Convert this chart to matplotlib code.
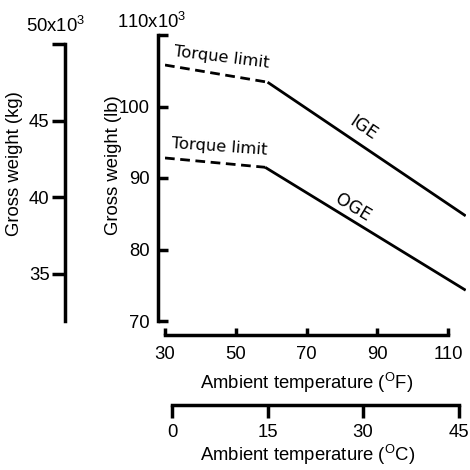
#!/usr/bin/python3

import matplotlib
matplotlib.use("Agg")
import matplotlib.pyplot as plt

plt.rcParams['font.family'] = ['Liberation Sans', 'DejaVu Sans']
plt.rcParams['mathtext.fontset'] = 'custom'
plt.rcParams['mathtext.rm'] = 'Liberation Sans'

# hover ceiling curves, gross weight (1000 lb) vs ambient temperature (F)
ige_torque_temp = [30, 59]
ige_torque_weight = [105.8, 103.4]
ige_temp = [59, 115]
ige_weight = [103.4, 84.7]

oge_torque_temp = [30, 58.3]
oge_torque_weight = [92.8, 91.5]
oge_temp = [58.3, 115]
oge_weight = [91.5, 74.3]

lb_ticks = [70, 80, 90, 100, 110]
lb_tick_labels = ['70', '80', '90', '100', '']
f_ticks = [30, 50, 70, 90, 110]
c_ticks = [0, 15, 30, 45]
kg_ticks = [35, 40, 45, 50]
kg_tick_labels = ['35', '40', '45', '']

FS = 13.3
LW_AX = 2.5
LW = 2.0
LABEL_FONT = 'DejaVu Sans'


def f_to_c(f):
  return (f - 32.0) * 5.0 / 9.0


def px(x, y):
  # pixel position -> figure fraction
  return x / 470.0, 1 - y / 470.0


def main():
  fig = plt.figure(figsize=(4.7, 4.7), dpi=100)

  left, bottom = px(165, 321)
  right, top = px(466.4, 35)
  ax = fig.add_axes([left, bottom, right - left, top - bottom])
  ax.patch.set_visible(False)

  ax.plot(ige_torque_temp, ige_torque_weight, color='black', lw=LW,
          linestyle=(0, (3.5, 2)), solid_capstyle='butt')
  ax.plot(ige_temp, ige_weight, color='black', lw=LW, solid_capstyle='butt')
  ax.plot(oge_torque_temp, oge_torque_weight, color='black', lw=LW,
          linestyle=(0, (3.5, 2)), solid_capstyle='butt')
  ax.plot(oge_temp, oge_weight, color='black', lw=LW, solid_capstyle='butt')

  ax.set_xlim(30, 115.2)
  ax.set_ylim(70, 110)

  for s in ['top', 'right']:
    ax.spines[s].set_visible(False)
  ax.spines['left'].set_position(('outward', 5))
  ax.spines['bottom'].set_position(('outward', 10))
  ax.spines['left'].set_bounds(70, 110)
  ax.spines['bottom'].set_bounds(30, 110)
  for s in ['left', 'bottom']:
    ax.spines[s].set_linewidth(LW_AX)
    ax.spines[s].set_capstyle('projecting')

  ax.set_yticks(lb_ticks)
  ax.set_yticklabels(lb_tick_labels)
  ax.set_xticks(f_ticks)
  ax.set_xticklabels([str(t) for t in f_ticks])
  ax.tick_params(axis='y', direction='in', length=7, width=LW_AX, pad=6,
                 labelsize=FS)
  ax.tick_params(axis='x', direction='in', length=5, width=LW_AX, pad=8,
                 labelsize=FS)

  ax.text(86.0, 97.0, 'IGE', rotation=-34, ha='center', va='center',
          fontsize=12.5, family=LABEL_FONT)
  ax.text(83.1, 85.8, 'OGE', rotation=-31, ha='center', va='center',
          fontsize=12.5, family=LABEL_FONT)
  ax.text(46.1, 106.8, 'Torque limit', rotation=-7, ha='center',
          va='center', fontsize=11.8, family=LABEL_FONT)
  ax.text(45.5, 94.3, 'Torque limit', rotation=-4, ha='center',
          va='center', fontsize=11.8, family=LABEL_FONT)

  # celsius scale under the fahrenheit one
  cb = px(0, 405)[1]
  axc = fig.add_axes([left, cb, right - left, 0.0001])
  axc.patch.set_visible(False)
  axc.set_xlim(f_to_c(30), f_to_c(115.2))
  for s in ['top', 'right', 'left']:
    axc.spines[s].set_visible(False)
  axc.spines['bottom'].set_bounds(0, 45)
  axc.spines['bottom'].set_linewidth(LW_AX)
  axc.set_yticks([])
  axc.set_xticks(c_ticks)
  axc.set_xticklabels([str(t) for t in c_ticks])
  axc.tick_params(axis='x', direction='out', length=9.5, width=LW_AX, pad=4,
                  labelsize=FS)

  # kilogram scale on the far left
  kx = px(65, 0)[0]
  axk = fig.add_axes([kx, bottom, 0.0001, top - bottom])
  axk.patch.set_visible(False)
  axk.set_ylim(31.93, 50.59)
  for s in ['top', 'right', 'bottom']:
    axk.spines[s].set_visible(False)
  axk.spines['left'].set_bounds(31.93, 50)
  axk.spines['left'].set_linewidth(LW_AX)
  axk.set_xticks([])
  axk.set_yticks(kg_ticks)
  axk.set_yticklabels(kg_tick_labels)
  axk.tick_params(axis='y', direction='out', length=9.5, width=LW_AX, pad=1.5,
                  labelsize=FS)

  fig.text(*px(152, 22), '110x10$^{\\mathrm{3}}$', ha='center', va='center',
           fontsize=FS)
  fig.text(*px(56, 26), '50x10$^{\\mathrm{3}}$', ha='center', va='center',
           fontsize=FS)
  fig.text(*px(113, 165), 'Gross weight (lb)', rotation=90, ha='center',
           va='center', fontsize=FS)
  fig.text(*px(15, 164), 'Gross weight (kg)', rotation=90, ha='center',
           va='center', fontsize=FS)
  fig.text(*px(307, 383), 'Ambient temperature ($^{\\mathrm{O}}$F)',
           ha='center', va='center', fontsize=FS)
  fig.text(*px(308, 455), 'Ambient temperature ($^{\\mathrm{O}}$C)',
           ha='center', va='center', fontsize=FS)

  fig.savefig('out.png', dpi=100)


if __name__ == '__main__': main()
